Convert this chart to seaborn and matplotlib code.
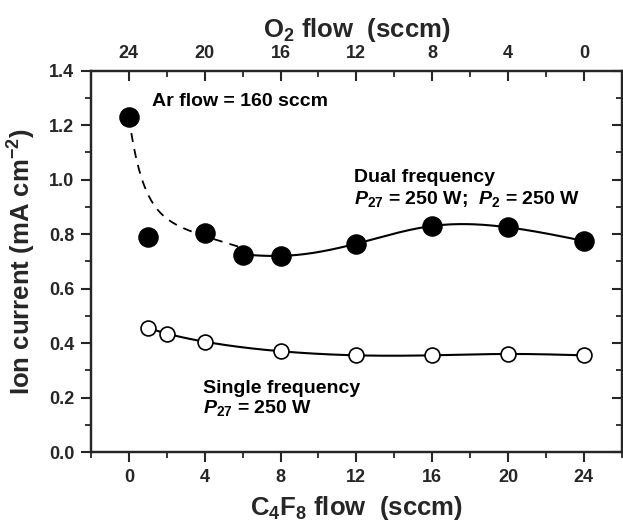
import numpy as np
import pandas as pd
import matplotlib
matplotlib.use("Agg")
import matplotlib.pyplot as plt
import seaborn as sns

# ---- data ----
dual_x = [0, 1, 4, 6, 8, 12, 16, 20, 24]
dual_y = [1.23, 0.79, 0.805, 0.725, 0.72, 0.765, 0.83, 0.825, 0.775]
single_x = [1, 2, 4, 8, 12, 16, 20, 24]
single_y = [0.455, 0.435, 0.405, 0.37, 0.355, 0.355, 0.36, 0.355]
bottom_ticks = [0, 4, 8, 12, 16, 20, 24]
o2_labels = ["24", "20", "16", "12", "8", "4", "0"]
y_ticks = [0.0, 0.2, 0.4, 0.6, 0.8, 1.0, 1.2, 1.4]

sns.set_style("ticks")
plt.rcParams["font.family"] = ["Liberation Sans", "DejaVu Sans"]
plt.rcParams["font.weight"] = "bold"
plt.rcParams["mathtext.fontset"] = "custom"
plt.rcParams["mathtext.rm"] = "Liberation Sans:bold"
plt.rcParams["mathtext.bf"] = "Liberation Sans:bold"
plt.rcParams["mathtext.it"] = "Liberation Sans:bold:italic"
plt.rcParams["mathtext.default"] = "rm"
plt.rcParams["savefig.bbox"] = "standard"


def natural_spline(xk, yk, xs):
    xk = np.asarray(xk, float); yk = np.asarray(yk, float)
    n = len(xk)
    h = np.diff(xk)
    A = np.zeros((n, n)); b = np.zeros(n)
    A[0, 0] = 1; A[-1, -1] = 1
    for i in range(1, n - 1):
        A[i, i - 1] = h[i - 1]
        A[i, i] = 2 * (h[i - 1] + h[i])
        A[i, i + 1] = h[i]
        b[i] = 3 * ((yk[i + 1] - yk[i]) / h[i] - (yk[i] - yk[i - 1]) / h[i - 1])
    c = np.linalg.solve(A, b)
    out = np.empty_like(xs)
    for j, x in enumerate(xs):
        i = min(max(np.searchsorted(xk, x) - 1, 0), n - 2)
        dx = x - xk[i]
        bi = (yk[i + 1] - yk[i]) / h[i] - h[i] * (2 * c[i] + c[i + 1]) / 3
        di = (c[i + 1] - c[i]) / (3 * h[i])
        out[j] = yk[i] + bi * dx + c[i] * dx ** 2 + di * dx ** 3
    return out


fig = plt.figure(figsize=(6.23, 5.24), dpi=100)
ax = fig.add_axes([0.146, 0.1374, 0.852, 0.7276])

# dashed decay fit (excluding the x=1 point)
fx = np.array([dual_x[0], dual_x[2], dual_x[3], dual_x[4]], float)
fy = np.array([dual_y[0], dual_y[2], dual_y[3], dual_y[4]], float)
t = 0.75
M = np.column_stack([np.ones_like(fx), fx, np.exp(-fx / t)])
coef, *_ = np.linalg.lstsq(M, fy, rcond=None)
xd = np.linspace(0, 6, 200)
yd = coef[0] + coef[1] * xd + coef[2] * np.exp(-xd / t)
sns.lineplot(x=xd, y=yd, ax=ax, color="black", lw=1.3, linestyle=(0, (5, 4)))

# solid dual spline
xs = np.linspace(6, 24, 300)
ys = natural_spline(dual_x[3:], dual_y[3:], xs)
sns.lineplot(x=xs, y=ys, ax=ax, color="black", lw=1.5)

# single spline
xs2 = np.linspace(1, 24, 300)
ys2 = natural_spline(single_x, single_y, xs2)
sns.lineplot(x=xs2, y=ys2, ax=ax, color="black", lw=1.5)

dual_df = pd.DataFrame({"x": dual_x, "y": dual_y})
single_df = pd.DataFrame({"x": single_x, "y": single_y})
sns.scatterplot(data=dual_df, x="x", y="y", ax=ax, s=190, color="black",
                edgecolor="black", linewidth=1, zorder=5)
sns.scatterplot(data=single_df, x="x", y="y", ax=ax, s=115, color="white",
                edgecolor="black", linewidth=1.2, zorder=5)

ax.set_xticks(bottom_ticks)
ax.set_xticks(np.arange(-2, 26.1, 2), minor=True)
ax.set_yticks(y_ticks)
ax.set_yticks(np.arange(0, 1.41, 0.1), minor=True)
ax.set_yticklabels([f"{v:.1f}" for v in y_ticks])
ax.tick_params(axis="both", which="major", labelsize=13, width=1.5, length=7,
               direction="out", pad=5)
ax.tick_params(axis="both", which="minor", width=1.3, length=4, direction="out")
ax.tick_params(axis="y", which="both", right=True)
for tk in ax.yaxis.get_major_ticks() + ax.yaxis.get_minor_ticks():
    tk.tick2line.set_marker(matplotlib.lines.TICKLEFT)
for lab in ax.get_xticklabels() + ax.get_yticklabels():
    lab.set_fontweight("bold")
for s in ax.spines.values():
    s.set_linewidth(1.6)

ax.set_xlabel(r"C$_4$F$_8$ flow  (sccm)", fontsize=18.5, fontweight="bold", labelpad=6)
ax.set_ylabel(r"Ion current (mA cm$^{-2}$)", fontsize=18.5, fontweight="bold", labelpad=8)

top = ax.twiny()
top.set_xticks(bottom_ticks)
top.set_xticklabels(o2_labels)
top.set_xticks(np.arange(-2, 26.1, 2), minor=True)
top.tick_params(axis="x", which="major", direction="in", labelsize=13, width=1.5, length=7, pad=6)
top.tick_params(axis="x", which="minor", direction="in", width=1.3, length=4)
for lab in top.get_xticklabels():
    lab.set_fontweight("bold")
top.set_xlabel(r"O$_2$ flow  (sccm)", fontsize=18.5, fontweight="bold", labelpad=6)
for s in top.spines.values():
    s.set_linewidth(1.6)

ax.set_xlim(-2, 26)
top.set_xlim(-2, 26)
ax.set_ylim(0, 1.4)

kw = dict(fontsize=14, fontweight="bold", color="black", va="baseline", ha="left")
ax.text(1.2, 1.27, "Ar flow = 160 sccm", **kw)
ax.text(11.9, 0.99, "Dual frequency", **kw)
ax.text(11.9, 0.912, r"$\mathit{P}_{27}$ = 250 W;  $\mathit{P}_{2}$ = 250 W", **kw)
ax.text(3.9, 0.218, "Single frequency", **kw)
ax.text(3.9, 0.142, r"$\mathit{P}_{27}$ = 250 W", **kw)

fig.savefig("out.png", dpi=100)
